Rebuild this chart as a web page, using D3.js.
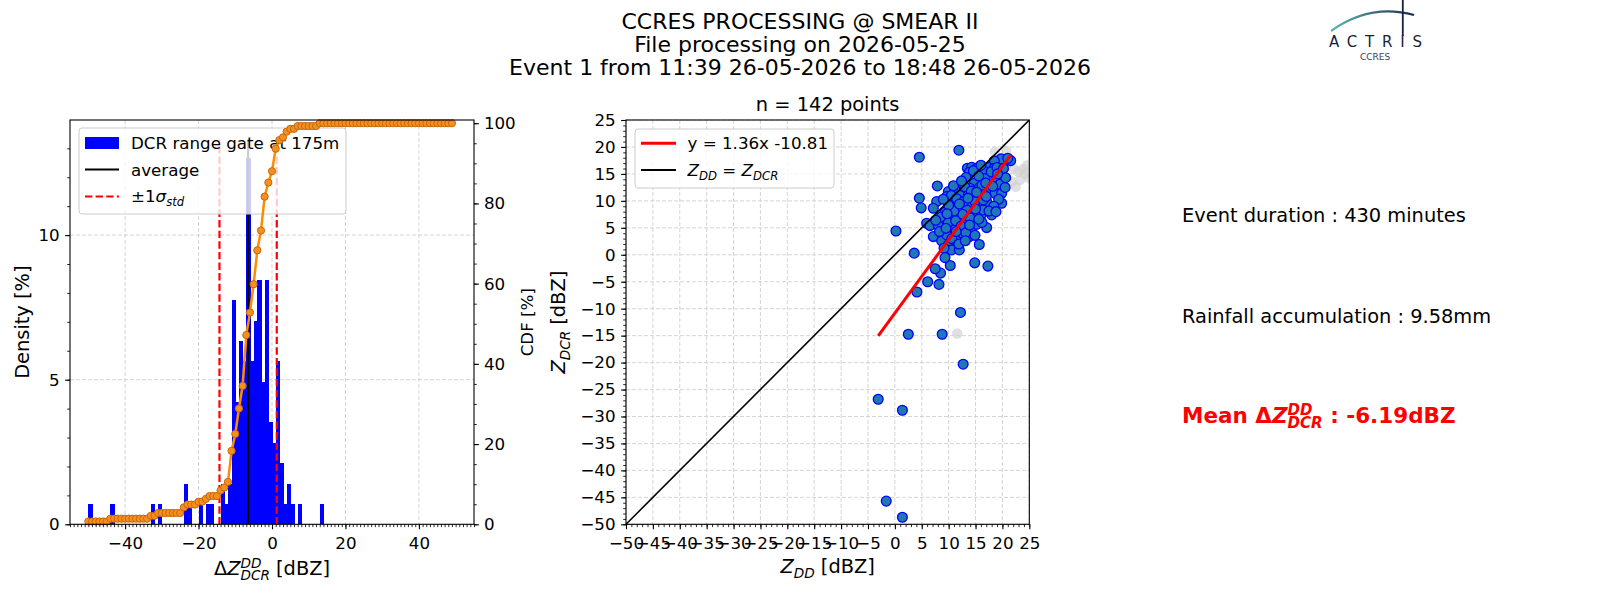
<!DOCTYPE html>
<html>
<head>
<meta charset="utf-8">
<script src="https://cdn.jsdelivr.net/npm/d3@7/dist/d3.min.js"></script>
<style>
  body { margin: 0; background: #fff; }
  text { font-family: "DejaVu Sans", sans-serif; white-space: pre; }
</style>
</head>
<body>
<svg id="fig" width="1600" height="600"></svg>
<script>
// ---- data ----
// histogram of Z_DCR - Z_DD, bins of 1 dBZ (left edge -> number of points)
const binLeft   = [-50,-44,-33,-31,-24,-23,-20,-18,-17,-14,-13,-12,-11,-10,-9,-8,-7,-6,-5,-4,-3,-2,-1,0,1,2,3,4,5,7,13];
const binCount  = [1,1,1,1,2,1,1,1,1,2,1,2,11,6,9,8,18,8,10,12,7,12,5,4,8,3,1,2,1,1,1];
const cdfLeft   = d3.range(-50, 50);          // CDF evaluated at every bin edge
const avgDelta  = -6.5;
const stdDelta  = 7.8;
const meanText  = "-6.19";

// scatter: Z_DD (x) and Z_DCR (y), valid points
const zdd = [0.2,4.55,11.9,4.55,4.9,3.6,4.1,6.1,8.2,8.5,7.5,10.3,14.85,17.3,15.7,12.2,2.5,8.8,12.7,-3.1,1.4,-1.6,1.4,
  19.74,21.54,18.5,13.48,14.28,15.21,13.85,17.38,18.44,16.76,13.23,16.83,18.93,7.9,11.99,14.78,15.71,17.69,19.55,13.97,
  9.94,11.18,12.11,9.63,13.66,15.21,16.45,18.62,19.86,7.77,11.18,13.66,15.83,17.07,19.86,14.9,16.45,7.15,9.32,11.62,
  10.25,14.59,16.02,18.0,13.35,16.45,5.91,6.53,8.08,10.25,11.8,10.87,12.73,14.28,15.21,17.07,13.66,7.15,8.7,9.63,
  12.11,13.85,11.49,9.94,10.56,11.99,9.14,9.32,
  10.5,11.5,12.8,13.0,14.6,15.6,16.2,17.9,19.0,20.2,20.5,19.3,18.4,17.5,15.0,14.0,12.6,11.0,10.0,9.0,8.6,9.9,11.3,
  12.3,13.2,14.9,16.2,18.8,10.6,11.9,13.1,8.3,9.5,7.6,10.9,12.4,14.2,16.9,18.2,20.6,21.0,16.0,15.2,13.6,12.0,17.0,
  19.1,9.7,11.4,13.9,15.6];
const zdcr = [4.4,18.1,19.4,10.5,8.7,0.3,-6.9,-5.0,-5.5,-3.4,-2.6,-2.0,-1.5,-2.1,1.9,-10.7,-14.75,-14.75,-20.3,-26.8,-28.85,-45.7,-48.7,
  17.78,17.47,17.41,16.05,16.23,16.05,15.31,16.17,16.05,15.43,14.32,14.13,14.32,12.77,12.83,13.27,12.46,12.34,13.08,12.34,
  11.72,12.03,10.98,10.79,11.1,10.79,11.22,11.41,11.41,9.86,9.25,9.55,9.55,9.86,9.55,9.86,10.17,8.63,7.89,7.08,
  6.77,7.51,7.39,7.39,8.32,8.32,5.84,5.41,5.41,5.23,5.41,4.61,4.61,4.79,5.66,5.04,6.03,3.37,2.57,3.68,
  3.68,3.37,2.57,1.82,0.9,0.9,1.21,-0.53,
  11.0,10.4,9.9,12.6,15.6,14.6,12.9,15.4,16.2,16.0,12.5,10.3,9.0,8.1,8.5,6.8,7.5,8.1,9.2,10.3,7.0,5.9,6.3,
  5.3,4.1,3.6,6.0,8.0,3.0,2.0,2.6,4.3,4.9,6.4,12.8,13.7,11.8,13.3,12.7,14.3,17.9,16.6,11.6,10.5,9.4,10.8,
  15.0,7.6,4.3,5.5,6.6];
// rejected points (grey)
const grayDD  = [18.6,20.7,22.0,23.0,23.8,24.2,23.3,21.7,20.2,22.5,24.6,11.6,21.3,24.9];
const grayDCR = [19.1,19.3,16.0,15.4,15.9,15.0,13.9,13.6,14.9,12.6,16.6,-14.6,17.2,14.3];
const fitSlope = 1.36, fitIntercept = -10.81;

const titleLines = ["CCRES PROCESSING @ SMEAR II", "File processing on 2026-05-25",
                    "Event 1 from 11:39 26-05-2026 to 18:48 26-05-2026"];
const eventDuration = 430;
const rainfall = "9.58";

// ---- helpers ----
const svg = d3.select("#fig");
svg.append("rect").attr("width", 1600).attr("height", 600).attr("fill", "#fff");

// draw text with matplotlib-like sub/superscripts
function mathText(parent, x, y, segs, o) {
  const size = o.size, g = parent.append("g");
  let cx = 0;
  const mk = (tx, px, py, sz, it) => g.append("text")
      .attr("x", px).attr("y", py).attr("font-size", sz)
      .attr("font-style", it ? "italic" : null)
      .attr("font-weight", o.bold ? "bold" : null)
      .attr("fill", o.color || "#000").text(tx);
  segs.forEach(s => {
    const t = mk(s.t, cx, 0, size, s.it);
    cx += t.node().getComputedTextLength();
    let w = 0;
    if (s.sup) w = Math.max(w, mk(s.sup, cx, -0.38 * size, size * 0.7, true).node().getComputedTextLength());
    if (s.sub) w = Math.max(w, mk(s.sub, cx, 0.24 * size, size * 0.7, true).node().getComputedTextLength());
    cx += w;
  });
  const dx = o.anchor === "middle" ? -cx / 2 : o.anchor === "end" ? -cx : 0;
  g.attr("transform", `translate(${x},${y}) rotate(${o.rotate || 0}) translate(${dx},0)`);
  return g;
}

function styleAxis(g, fs) {
  g.select(".domain").remove();
  g.attr("font-family", null).attr("font-size", null);
  g.selectAll(".tick line").attr("stroke", "#000").attr("stroke-width", 1.1);
  g.selectAll(".tick text").attr("font-size", fs).attr("fill", "#000");
}

const fmt = d3.format("d");
const gridStyle = sel => sel.attr("stroke", "#d0d0d0").attr("stroke-width", 0.9).attr("stroke-dasharray", "4,2");

// ---- title ----
titleLines.forEach((t, i) => {
  svg.append("text").attr("x", 800).attr("y", 28.5 + i * 23).attr("text-anchor", "middle")
    .attr("font-size", 22).text(t);
});

// ---- left panel: histogram + CDF ----
const hb = { l: 70, r: 474, t: 120, b: 524.3 };
const hx = d3.scaleLinear().domain([-55, 55]).range([hb.l, hb.r]);
const hy = d3.scaleLinear().domain([0, 13.98]).range([hb.b, hb.t]);
const hy2 = d3.scaleLinear().domain([0, 100.8]).range([hb.b, hb.t]);
const nTot = d3.sum(binCount);
const density = binCount.map(c => c / nTot * 100);
const cdfVals = cdfLeft.map(x => d3.sum(binLeft.map((b, i) => b <= x ? binCount[i] : 0)) / nTot * 100);
const vTop = d3.max(density) * 1.05;

const hg = svg.append("g");
hg.selectAll(".vg").data([-40, -20, 0, 20, 40]).join("line")
  .attr("x1", d => hx(d)).attr("x2", d => hx(d)).attr("y1", hb.t).attr("y2", hb.b).call(gridStyle);
hg.selectAll(".hg").data([5, 10]).join("line")
  .attr("x1", hb.l).attr("x2", hb.r).attr("y1", d => hy(d)).attr("y2", d => hy(d)).call(gridStyle);

// bars slightly widened so neighbours merge without seams
hg.append("g").attr("shape-rendering", "crispEdges")
  .selectAll("rect").data(binLeft).join("rect")
  .attr("x", d => hx(d)).attr("width", d => hx(d + 1) - hx(d) + 0.6)
  .attr("y", (d, i) => hy(density[i])).attr("height", (d, i) => hy(0) - hy(density[i]))
  .attr("fill", "#0000ff");

hg.append("line").attr("x1", hx(avgDelta)).attr("x2", hx(avgDelta))
  .attr("y1", hy(0)).attr("y2", hy(vTop)).attr("stroke", "#000").attr("stroke-width", 2.2);
[avgDelta - stdDelta, avgDelta + stdDelta].forEach(v => {
  hg.append("line").attr("x1", hx(v)).attr("x2", hx(v)).attr("y1", hy(0)).attr("y2", hy(vTop))
    .attr("stroke", "#ff0000").attr("stroke-width", 2.2).attr("stroke-dasharray", "7.4,3.2");
});

// legend (drawn under the CDF like matplotlib twin axes)
const lg = hg.append("g");
lg.append("rect").attr("x", 79).attr("y", 128).attr("width", 267).attr("height", 86).attr("rx", 3)
  .attr("fill", "#fff").attr("fill-opacity", 0.8).attr("stroke", "#cccccc").attr("stroke-width", 1);
lg.append("rect").attr("x", 85).attr("y", 137).attr("width", 34).attr("height", 12).attr("fill", "#0000ff");
lg.append("text").attr("x", 131).attr("y", 149).attr("font-size", 16.7).text("DCR range gate at 175m");
lg.append("line").attr("x1", 85).attr("x2", 119).attr("y1", 169.5).attr("y2", 169.5).attr("stroke", "#000").attr("stroke-width", 2.2);
lg.append("text").attr("x", 131).attr("y", 175.5).attr("font-size", 16.7).text("average");
lg.append("line").attr("x1", 85).attr("x2", 119).attr("y1", 196.5).attr("y2", 196.5).attr("stroke", "#ff0000")
  .attr("stroke-width", 2.2).attr("stroke-dasharray", "7.4,3.2");
mathText(lg, 131, 202, [{ t: "±1" }, { t: "σ", it: true, sub: "std" }], { size: 16.7 });

// CDF
const cdfLine = d3.line().x((d, i) => hx(cdfLeft[i])).y(d => hy2(d));
hg.append("path").datum(cdfVals).attr("d", cdfLine).attr("fill", "none")
  .attr("stroke", "#ff8c00").attr("stroke-width", 2.5);
hg.selectAll(".cdfm").data(cdfVals).join("circle")
  .attr("cx", (d, i) => hx(cdfLeft[i])).attr("cy", d => hy2(d)).attr("r", 3.6)
  .attr("fill", "#f5901e").attr("stroke", "#c8650f").attr("stroke-width", 1);

hg.append("rect").attr("x", hb.l).attr("y", hb.t).attr("width", hb.r - hb.l).attr("height", hb.b - hb.t)
  .attr("fill", "none").attr("stroke", "#000").attr("stroke-width", 1.1);

// axes
hg.append("g").attr("transform", `translate(0,${hb.b})`)
  .call(d3.axisBottom(hx).tickValues(d3.range(-55, 56)).tickSize(2.8).tickFormat(""))
  .call(g => { styleAxis(g, 16.7); g.selectAll(".tick line").attr("stroke-width", 0.85); });
hg.append("g").attr("transform", `translate(0,${hb.b})`)
  .call(d3.axisBottom(hx).tickValues([-40, -20, 0, 20, 40]).tickSize(4.9).tickPadding(7.5).tickFormat(fmt))
  .call(g => styleAxis(g, 16.7));
hg.append("g").attr("transform", `translate(${hb.l},0)`)
  .call(d3.axisLeft(hy).tickValues(d3.range(0, 14)).tickSize(2.8).tickFormat(""))
  .call(g => { styleAxis(g, 16.7); g.selectAll(".tick line").attr("stroke-width", 0.85); });
hg.append("g").attr("transform", `translate(${hb.l},0)`)
  .call(d3.axisLeft(hy).tickValues([0, 5, 10]).tickSize(4.9).tickPadding(5.5).tickFormat(fmt))
  .call(g => styleAxis(g, 16.7));
hg.append("g").attr("transform", `translate(${hb.r},0)`)
  .call(d3.axisRight(hy2).tickValues(d3.range(0, 101, 5)).tickSize(2.8).tickFormat(""))
  .call(g => { styleAxis(g, 16.7); g.selectAll(".tick line").attr("stroke-width", 0.85); });
hg.append("g").attr("transform", `translate(${hb.r},0)`)
  .call(d3.axisRight(hy2).tickValues([0, 20, 40, 60, 80, 100]).tickSize(4.9).tickPadding(5).tickFormat(fmt))
  .call(g => styleAxis(g, 16.7));

mathText(hg, (hb.l + hb.r) / 2, 575, [{ t: "Δ" }, { t: "Z", it: true, sub: "DCR", sup: "DD" }, { t: " [dBZ]" }],
  { size: 19.4, anchor: "middle" });
svg.append("text").attr("transform", `translate(29,${(hb.t + hb.b) / 2}) rotate(-90)`)
  .attr("text-anchor", "middle").attr("font-size", 19.4).text("Density [%]");
svg.append("text").attr("transform", `translate(533,${(hb.t + hb.b) / 2}) rotate(-90)`)
  .attr("text-anchor", "middle").attr("font-size", 16.7).text("CDF [%]");

// ---- middle panel: scatter ----
const sb = { l: 626, r: 1029.3, t: 120, b: 524.3 };
const sx = d3.scaleLinear().domain([-50, 25]).range([sb.l, sb.r]);
const sy = d3.scaleLinear().domain([-50, 25]).range([sb.b, sb.t]);
const ticks5 = d3.range(-50, 26, 5);

const sg = svg.append("g");
svg.append("clipPath").attr("id", "sclip").append("rect")
  .attr("x", sb.l).attr("y", sb.t).attr("width", sb.r - sb.l).attr("height", sb.b - sb.t);
sg.selectAll(".vg").data(ticks5).join("line")
  .attr("x1", d => sx(d)).attr("x2", d => sx(d)).attr("y1", sb.t).attr("y2", sb.b).call(gridStyle);
sg.selectAll(".hg").data(ticks5).join("line")
  .attr("x1", sb.l).attr("x2", sb.r).attr("y1", d => sy(d)).attr("y2", d => sy(d)).call(gridStyle);

const pg = sg.append("g").attr("clip-path", "url(#sclip)");
pg.selectAll(".gp").data(grayDD).join("circle")
  .attr("cx", d => sx(d)).attr("cy", (d, i) => sy(grayDCR[i])).attr("r", 5.2)
  .attr("fill", "#cfcfcf").attr("fill-opacity", 0.65);
pg.selectAll(".bp").data(zdd).join("circle")
  .attr("cx", d => sx(d)).attr("cy", (d, i) => sy(zdcr[i])).attr("r", 4.9)
  .attr("fill", "#1f77b4").attr("stroke", "#0000ff").attr("stroke-width", 1.3);
pg.append("line").attr("x1", sx(-50)).attr("y1", sy(-50)).attr("x2", sx(25)).attr("y2", sy(25))
  .attr("stroke", "#000").attr("stroke-width", 1.6);
const [fx0, fx1] = d3.extent(zdd);
pg.append("line").attr("x1", sx(fx0)).attr("y1", sy(fitSlope * fx0 + fitIntercept))
  .attr("x2", sx(fx1)).attr("y2", sy(fitSlope * fx1 + fitIntercept))
  .attr("stroke", "#ff0000").attr("stroke-width", 3);

// scatter legend
const sl = sg.append("g");
sl.append("rect").attr("x", 635).attr("y", 129).attr("width", 199).attr("height", 59).attr("rx", 3)
  .attr("fill", "#fff").attr("fill-opacity", 0.8).attr("stroke", "#cccccc");
sl.append("line").attr("x1", 641).attr("x2", 676).attr("y1", 143.3).attr("y2", 143.3)
  .attr("stroke", "#ff0000").attr("stroke-width", 3);
sl.append("text").attr("x", 687.5).attr("y", 149.3).attr("font-size", 16.7)
  .text(`y = ${fitSlope}x ${fitIntercept}`);
sl.append("line").attr("x1", 641).attr("x2", 676).attr("y1", 170).attr("y2", 170)
  .attr("stroke", "#000").attr("stroke-width", 2);
mathText(sl, 687.5, 176, [{ t: "Z", it: true, sub: "DD" }, { t: " = " }, { t: "Z", it: true, sub: "DCR" }], { size: 16.7 });

sg.append("rect").attr("x", sb.l).attr("y", sb.t).attr("width", sb.r - sb.l).attr("height", sb.b - sb.t)
  .attr("fill", "none").attr("stroke", "#000").attr("stroke-width", 1.1);
sg.append("g").attr("transform", `translate(0,${sb.b})`)
  .call(d3.axisBottom(sx).tickValues(d3.range(-50, 26)).tickSize(2.8).tickFormat(""))
  .call(g => { styleAxis(g, 16.7); g.selectAll(".tick line").attr("stroke-width", 0.85); });
sg.append("g").attr("transform", `translate(0,${sb.b})`)
  .call(d3.axisBottom(sx).tickValues(ticks5).tickSize(4.9).tickPadding(7.5).tickFormat(fmt))
  .call(g => styleAxis(g, 16.7));
sg.append("g").attr("transform", `translate(${sb.l},0)`)
  .call(d3.axisLeft(sy).tickValues(d3.range(-50, 26)).tickSize(2.8).tickFormat(""))
  .call(g => { styleAxis(g, 16.7); g.selectAll(".tick line").attr("stroke-width", 0.85); });
sg.append("g").attr("transform", `translate(${sb.l},0)`)
  .call(d3.axisLeft(sy).tickValues(ticks5).tickSize(4.9).tickPadding(5.5).tickFormat(fmt))
  .call(g => styleAxis(g, 16.7));

svg.append("text").attr("x", (sb.l + sb.r) / 2).attr("y", 111).attr("text-anchor", "middle")
  .attr("font-size", 19.4).text(`n = ${zdd.length} points`);
mathText(svg, (sb.l + sb.r) / 2, 573, [{ t: "Z", it: true, sub: "DD" }, { t: " [dBZ]" }], { size: 19.4, anchor: "middle" });
mathText(svg, 565, (sb.t + sb.b) / 2, [{ t: "Z", it: true, sub: "DCR" }, { t: " [dBZ]" }],
  { size: 19.4, anchor: "middle", rotate: -90 });

// ---- right: event summary ----
svg.append("text").attr("x", 1182).attr("y", 221.5).attr("font-size", 19.4)
  .text(`Event duration : ${eventDuration} minutes`);
svg.append("text").attr("x", 1182).attr("y", 322.5).attr("font-size", 19.4)
  .text(`Rainfall accumulation : ${rainfall}mm`);
mathText(svg, 1182, 423, [{ t: "Mean " }, { t: "Δ" }, { t: "Z", it: true, sub: "DCR", sup: "DD" }, { t: ` : ${meanText}dBZ` }],
  { size: 21.5, bold: true, color: "#ff0000" });

// ---- logo ----
const defs = svg.append("defs");
const grad = defs.append("linearGradient").attr("id", "arcg").attr("x1", "0").attr("x2", "1");
grad.append("stop").attr("offset", "0").attr("stop-color", "#5fb8b0");
grad.append("stop").attr("offset", "1").attr("stop-color", "#1b2a4e");
svg.append("path").attr("d", "M1331,31 Q1370,3 1414,15").attr("fill", "none")
  .attr("stroke", "url(#arcg)").attr("stroke-width", 2.2);
svg.append("line").attr("x1", 1402.8).attr("x2", 1402.8).attr("y1", 0).attr("y2", 36)
  .attr("stroke", "#1b1f3a").attr("stroke-width", 1.8);
svg.append("text").attr("x", 1329).attr("y", 47).attr("font-size", 15).attr("letter-spacing", 7.8)
  .attr("fill", "#1b1f3a").text("ACTRIS");
svg.append("text").attr("x", 1375).attr("y", 60).attr("text-anchor", "middle").attr("font-size", 9)
  .attr("fill", "#3a3f55").text("CCRES");
</script>
</body>
</html>
